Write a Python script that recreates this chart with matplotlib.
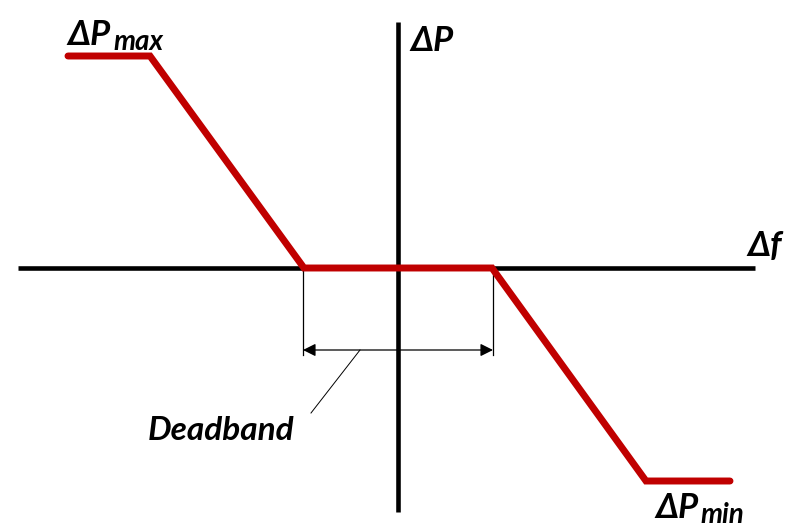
import matplotlib
matplotlib.use("Agg")
import matplotlib.pyplot as plt

# Droop characteristic with deadband (Δf on x, ΔP on y), arbitrary units
curve_df = [-330, -248, -94, 94, 248, 332]
curve_dp = [212, 212, 0, 0, -213, -213]
deadband = [-95, 95]
axis_x_range = [-380, 357]
axis_y_range = [-244, 246]

RED = "#C00000"
FONT = ["Lato", "DejaVu Sans"]

fig = plt.figure(figsize=(7.9, 5.28), dpi=100)
ax = fig.add_axes([0, 0, 1, 1])
ax.set_xlim(-398, 392)
ax.set_ylim(-260, 268)
ax.axis("off")

# axes
ax.plot(axis_x_range, [0, 0], color="black", lw=3.3, solid_capstyle="butt", zorder=2)
ax.plot([0, 0], axis_y_range, color="black", lw=3.3, solid_capstyle="butt", zorder=2)

# curve
ax.plot(curve_df, curve_dp, color=RED, lw=5, solid_capstyle="round",
        solid_joinstyle="miter", zorder=3)

# deadband brackets
for x in deadband:
    ax.plot([x, x], [0, -87], color="black", lw=0.9, zorder=1)
ax.annotate("", xy=(deadband[0], -82), xytext=(deadband[1], -82),
            arrowprops=dict(arrowstyle="<|-|>", color="black", lw=0.9,
                            mutation_scale=19, shrinkA=0, shrinkB=0), zorder=4)
ax.plot([-38, -87], [-82, -145], color="black", lw=0.7, zorder=1)

tkw = dict(fontfamily=FONT, fontweight="bold", fontstyle="italic", color="black",
           ha="left", va="baseline")
ax.text(-250, -172, "Deadband", fontsize=24, **tkw)

# labels
ax.text(-331, 223, "ΔP", fontsize=25, **tkw)
ax.text(-285, 218, "max", fontsize=20, **tkw)
ax.text(12, 217, "ΔP", fontsize=25, **tkw)
ax.text(349, 12, "Δf", fontsize=25, **tkw)
ax.text(257, -250, "ΔP", fontsize=25, **tkw)
ax.text(302, -255, "min", fontsize=20, **tkw)

fig.savefig("out.png", dpi=100)
